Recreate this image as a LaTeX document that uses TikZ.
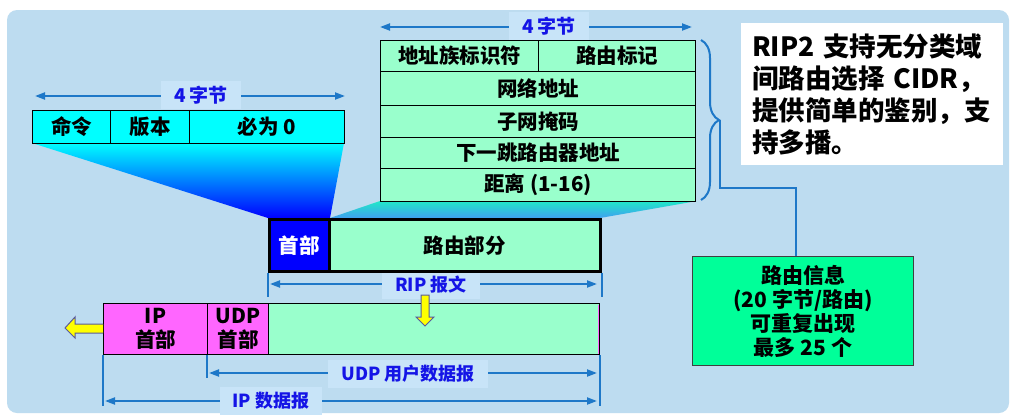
\documentclass[tikz,border=0pt]{standalone}
\usepackage{fontspec}
\setmainfont{Noto Sans CJK SC}
\usetikzlibrary{arrows.meta,decorations.pathreplacing,calc}
\definecolor{panel}{HTML}{BDDCF0}
\definecolor{lblbg}{HTML}{C8E4F8}
\definecolor{mint}{HTML}{99FFCC}
\definecolor{pinkc}{HTML}{FF66FF}
\definecolor{spring}{HTML}{00FF99}
\definecolor{arrowc}{HTML}{1E78C8}
\definecolor{lbltxt}{HTML}{1414E6}
\definecolor{teal1}{HTML}{20E8C8}
\definecolor{blue2}{HTML}{40A0F0}
\definecolor{yborder}{HTML}{5A5A9A}
\definecolor{cyanc}{RGB}{0,255,255}
\definecolor{bluec}{RGB}{0,0,255}
\definecolor{yellowc}{RGB}{255,255,0}
\begin{document}
\begin{tikzpicture}[x=1pt,y=-1pt,
  cell/.style={draw=black, line width=1pt, anchor=north west, inner sep=0pt, font=\bfseries\fontsize{20.5}{23}\selectfont},
  thickcell/.style={cell, line width=2.5pt},
  lbl/.style={fill=lblbg, text=lbltxt, inner xsep=13pt, inner ysep=5pt, font=\bfseries\fontsize{18}{20}\selectfont},
  meas/.style={draw=arrowc, line width=2pt, {Triangle[length=10pt,width=7pt]}-{Triangle[length=10pt,width=7pt]}},
  tick/.style={draw=arrowc, line width=2pt},
  yarrow/.style={fill=yellowc, draw=yborder, line width=1pt, line join=miter}
]
\useasboundingbox (0,0) rectangle (1011,416);
\fill[white] (0,0) rectangle (1011,416);
\fill[panel, rounded corners=10pt] (7,10) rectangle (1009,413);

% gradient funnels
\shade[top color=cyanc, bottom color=bluec] (32,143) -- (344,143) -- (330,218) -- (268,218) -- cycle;
\shade[top color=teal1, bottom color=blue2] (380,201) -- (697,201) -- (600,218) -- (330,218) -- cycle;

% measurement arrows
\coordinate (hA) at (35,96);   \coordinate (hB) at (345,96);
\coordinate (rA) at (380,27);  \coordinate (rB) at (692,27);
\coordinate (pA) at (270,284); \coordinate (pB) at (597,284);
\coordinate (uA) at (209,373); \coordinate (uB) at (597,373);
\coordinate (iA) at (105,401); \coordinate (iB) at (597,401);
\draw[meas] (hA) -- (hB);
\draw[meas] (rA) -- (rB);
\draw[meas] (pA) -- (pB);
\draw[meas] (uA) -- (uB);
\draw[meas] (iA) -- (iB);
\node[lbl, font=\bfseries\fontsize{19}{20}\selectfont] (lh) at (201,95) {4 字节};
\node[lbl, font=\bfseries\fontsize{19}{20}\selectfont] (lr) at (549,26) {4 字节};
\node[lbl] (lp) at (431,285) {RIP 报文};
\node[lbl] (lu) at (408,374) {UDP 用户数据报};
\node[lbl] (li) at (271,401) {IP 数据报};

% RIP header
\node[cell, fill=cyanc, minimum width=78, minimum height=33] (cmd) at (32,110) {命令};
\node[cell, fill=cyanc, minimum width=79, minimum height=33] (ver) at (110,110) {版本};
\node[cell, fill=cyanc, minimum width=155, minimum height=33] (zero) at (189,110) {必为 0};

% route entry
\node[cell, fill=mint, minimum width=158, minimum height=31] (afi) at (380,40) {地址族标识符};
\node[cell, fill=mint, minimum width=157, minimum height=31] (tag) at (538,40) {路由标记};
\node[cell, fill=mint, minimum width=315, minimum height=34] (net) at (380,71) {网络地址};
\node[cell, fill=mint, minimum width=315, minimum height=32] (mask) at (380,105) {子网掩码};
\node[cell, fill=mint, minimum width=315, minimum height=31] (nh) at (380,137) {下一跳路由器地址};
\node[cell, fill=mint, minimum width=315, minimum height=33] (metric) at (380,168) {距离 (1-16)};

% brace and link to info box
\draw[arrowc, line width=2pt, decorate, decoration={brace, amplitude=18pt}] (701,40) -- (701,200);
\coordinate (tip) at (720,120);
\coordinate (bend) at (796,188);
\node[draw=black!75, line width=1pt, fill=spring, anchor=north west, minimum width=221, minimum height=109, inner sep=0pt, align=center, font=\bfseries\fontsize{21}{24}\selectfont] (info) at (692,256) {路由信息\\(20 字节/路由)\\可重复出现\\最多 25 个};
\draw[arrowc, line width=1.5pt] (tip) |- (bend) -- (bend |- info.north);

% note box
\node[fill=white, anchor=north west, minimum width=262, minimum height=142, text width=240, inner xsep=11pt, inner ysep=0pt, align=left, font=\bfseries\fontsize{26.5}{32}\selectfont] (note) at (741,23) {RIP2 支持无分类域\\间路由选择 CIDR，\\提供简单的鉴别，支\\持多播。};

% RIP message
\node[thickcell, fill=bluec, text=white, minimum width=60, minimum height=52] (hdr) at (268,218) {首部};
\node[thickcell, fill=mint, minimum width=271, minimum height=52] (routes) at (328,218) {路由部分};
\draw[tick] (hdr.south west) -- ++(0,24);
\draw[tick] (routes.south east) -- ++(0,24);

% UDP / IP datagram
\node[cell, fill=pinkc, minimum width=104, minimum height=51, align=center, font=\bfseries\fontsize{20.5}{24}\selectfont] (iph) at (103,303) {IP\\首部};
\node[cell, fill=pinkc, minimum width=61, minimum height=51, align=center, font=\bfseries\fontsize{20.5}{24}\selectfont] (udph) at (207,303) {UDP\\首部};
\node[cell, fill=mint, minimum width=331, minimum height=51] (data) at (268,303) {};
\draw[pinkc, line width=1.5pt] ($(data.north east)+(-1.3,1.5)$) -- ($(data.south east)+(-1.3,-1.5)$);
\draw[tick] (iph.south west) -- ++(0,51);
\draw[tick] (udph.south west) -- ++(0,23);
\draw[tick] (data.south east) -- ++(0,51);

% down arrow
\draw[yarrow] (421,295) -- (429,295) -- (429,317) -- (434,317) -- (425,326) -- (416,317) -- (421,317) -- cycle;

% left arrow
\draw[yarrow] (103,324) -- (75,324) -- (75,317) -- (65,328) -- (75,338) -- (75,333) -- (103,333);
\end{tikzpicture}
\end{document}
